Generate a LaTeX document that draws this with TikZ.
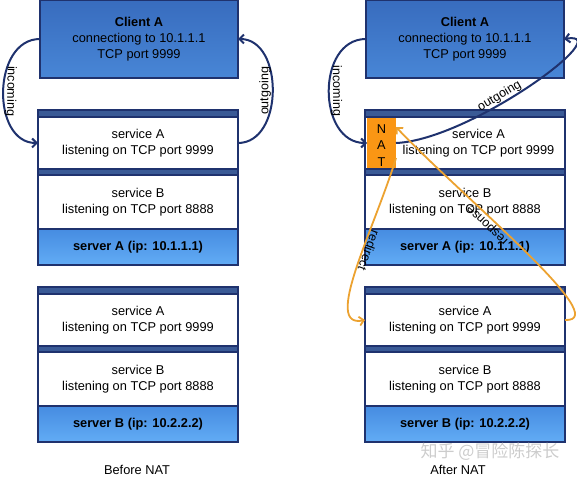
\documentclass[tikz,border=0pt]{standalone}
\usepackage{fontspec}
\setmainfont{Liberation Sans}
\newfontfamily\cjkfont{Noto Sans CJK SC}
\usetikzlibrary{arrows.meta}
\definecolor{navy}{RGB}{31,50,110}
\definecolor{bandblue}{RGB}{58,90,150}
\definecolor{cltop}{RGB}{56,108,190}
\definecolor{clbot}{RGB}{72,134,214}
\definecolor{lbtop}{RGB}{70,140,225}
\definecolor{lbbot}{RGB}{98,172,245}
\definecolor{natorange}{RGB}{250,150,20}
\definecolor{curveorange}{RGB}{236,162,48}
\begin{document}
\begin{tikzpicture}[x=1pt,y=-1pt,
  every node/.style={inner sep=0pt, outer sep=0pt, font=\fontsize{12.8}{16}\selectfont},
  clientbox/.style={draw=navy, line width=2pt, top color=cltop, bottom color=clbot,
    minimum width=198pt, minimum height=78pt, align=center},
  outerbox/.style={draw=navy, line width=2.5pt, fill=bandblue, minimum width=200pt, minimum height=155pt},
  svcbox/.style={draw=navy, line width=2pt, fill=white, minimum width=200pt, align=center},
  lblbox/.style={draw=navy, line width=2pt, top color=lbtop, bottom color=lbbot,
    minimum width=200pt, minimum height=36pt},
  natbox/.style={fill=natorange, minimum width=29pt, minimum height=50pt, align=center,
    font=\fontsize{12.8}{16.5}\selectfont},
  bluearrow/.style={draw=navy, line width=2pt, -{Straight Barb[length=4.5pt,width=9pt]}},
  orangearrow/.style={draw=curveorange, line width=1.8pt, -{Straight Barb[length=4.5pt,width=9pt]}},
  lab/.style={sloped, above, allow upside down, inner sep=1.5pt, font=\fontsize{12.5}{14}\selectfont}
]
\useasboundingbox (0,0) rectangle (577,478);

% ---------- Before NAT ----------
\node[clientbox] (clientL) at (139,39) {\textbf{Client A}\\connectiong to 10.1.1.1\\TCP port 9999};

\node[outerbox] (srvAL) at (138,187.5) {};
\node[svcbox, minimum height=52pt] (svcAL1) at (138,143) {service A\\listening on TCP port 9999};
\node[svcbox, minimum height=54pt] (svcAL2) at (138,202) {service B\\listening on TCP port 8888};
\node[lblbox] (lblAL) at (138,247) {\textbf{server A (ip: 10.1.1.1)}};

\node[outerbox] (srvBL) at (138,364.5) {};
\node[svcbox, minimum height=52pt] (svcBL1) at (138,320) {service A\\listening on TCP port 9999};
\node[svcbox, minimum height=54pt] (svcBL2) at (138,379) {service B\\listening on TCP port 8888};
\node[lblbox] (lblBL) at (138,424) {\textbf{server B (ip: 10.2.2.2)}};

\node (beforeT) at (137,470) {Before NAT};

% ---------- After NAT ----------
\node[clientbox] (clientR) at (465,39) {\textbf{Client A}\\connectiong to 10.1.1.1\\TCP port 9999};

\node[outerbox] (srvAR) at (465,187.5) {};
\node[svcbox, minimum height=52pt] (svcAR1) at (465,143) {};
\node[align=center] (svcAR1t) at (478.5,143) {service A\\listening on TCP port 9999};
\node[natbox] (NAT) at (381.5,143) {};
\node[align=center, font=\fontsize{12.8}{16.5}\selectfont] (NATt) at (381.5,145.5) {N\\A\\T};
\node[svcbox, minimum height=54pt] (svcAR2) at (465,202) {service B\\listening on TCP port 8888};
\node[lblbox] (lblAR) at (465,247) {\textbf{server A (ip: 10.1.1.1)}};

\node[outerbox] (srvBR) at (465,364.5) {};
\node[svcbox, minimum height=52pt] (svcBR1) at (465,320) {service A\\listening on TCP port 9999};
\node[svcbox, minimum height=54pt] (svcBR2) at (465,379) {service B\\listening on TCP port 8888};
\node[lblbox] (lblBR) at (465,424) {\textbf{server B (ip: 10.2.2.2)}};

\node (afterT) at (458,470) {After NAT};
\node[text=gray!40] (wm) at (490,452) {\cjkfont\fontsize{17}{17}\selectfont 知乎 @冒险陈探长};

% ---------- connectors: before NAT ----------
\draw[bluearrow] (clientL.west) .. controls +(-48,0) and +(-47,0) .. (svcAL1.west)
  node[lab, pos=0.5] {incoming};
\draw[bluearrow] (svcAL1.east) .. controls +(46,0) and +(46,0) .. (clientL.east)
  node[lab, pos=0.5] {outgoing};

% ---------- connectors: after NAT ----------
\draw[bluearrow] (clientR.west) .. controls +(-50,0) and +(-50,0) .. (NAT.west)
  node[lab, pos=0.5] {incoming};
\draw[bluearrow] (NAT.east) .. controls +(74,-3) and +(56,-9) .. (clientR.east)
  node[lab, pos=0.4] {outgoing};

\draw[orangearrow] ([yshift=-15pt]NAT.east) .. controls +(-22,72) and +(-43,9) .. (svcBR1.west)
  node[lab, pos=0.4] {redirect};
\draw[orangearrow] (svcBR1.east) .. controls +(51,2) and +(64,68) .. ([yshift=16pt]NAT.east)
  node[lab, pos=0.62] {response};
\end{tikzpicture}
\end{document}
